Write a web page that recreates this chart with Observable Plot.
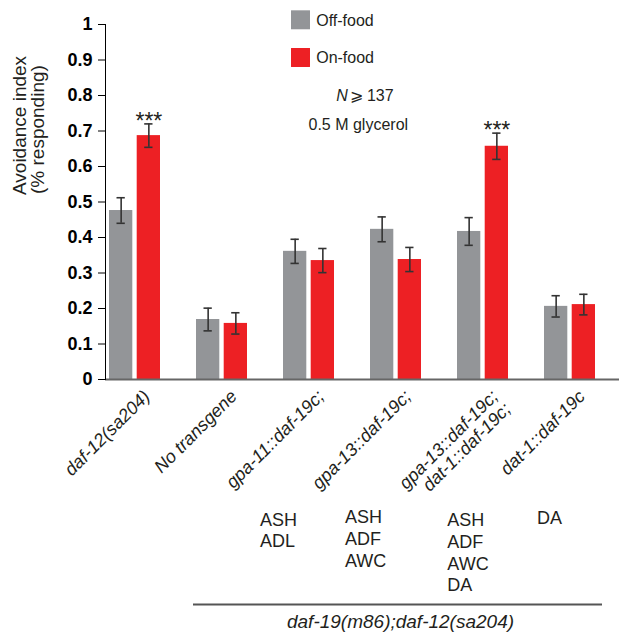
<!DOCTYPE html>
<html>
<head>
<meta charset="utf-8">
<script src="https://cdn.jsdelivr.net/npm/d3@7"></script>
<script src="https://cdn.jsdelivr.net/npm/@observablehq/plot@0.6"></script>
<style>
  html, body { margin: 0; padding: 0; background: #fff; }
</style>
</head>
<body>
<div id="chart"></div>
<script>
// ---- data ----
const groups = [
  "daf-12(sa204)",
  "No transgene",
  "gpa-11::daf-19c;",
  "gpa-13::daf-19c;",
  "gpa-13::daf-19c;\ndat-1::daf-19c;",
  "dat-1::daf-19c"
];
const offFood = [0.476, 0.169, 0.361, 0.423, 0.417, 0.206];
const offErr  = [0.036, 0.032, 0.034, 0.035, 0.039, 0.030];
const onFood  = [0.687, 0.158, 0.335, 0.338, 0.657, 0.211];
const onErr   = [0.033, 0.030, 0.034, 0.034, 0.037, 0.029];
const stars   = ["***", "", "", "", "***", ""];
const cellTypes = ["", "", "ASH\nADL", "ASH\nADF\nAWC", "ASH\nADF\nAWC\nDA", "DA"];
const yTicks = [0, 0.1, 0.2, 0.3, 0.4, 0.5, 0.6, 0.7, 0.8, 0.9, 1];
const legendLabels = ["Off-food", "On-food"];
const noteN = ["N", "\u2A7E 137"];
const noteStimulus = "0.5 M glycerol";
const backgroundLabel = "daf-19(m86);daf-12(sa204)";
const yLabel = ["Avoidance index", "(% responding)"];

// ---- styling / layout ----
const GRAY = "#939598";
const RED = "#ED2024";
const INK = "#231F20";
const FONT = "'Liberation Sans', Arial, Helvetica, sans-serif";
const HALF = 13.85;          // offset of each bar centre from group centre
const BAR_INSET = 27.7;      // inset that leaves each bar 24px wide
const cellLayout = [null, null, {dx: -49, dy: 131}, {dx: -51, dy: 128.5}, {dx: -35.7, dy: 131.5}, {dx: -33, dy: 129.5}];

const rows = groups.map((g, i) => ({
  group: g,
  off: offFood[i], offLo: offFood[i] - offErr[i], offHi: offFood[i] + offErr[i],
  on: onFood[i], onLo: onFood[i] - onErr[i], onHi: onFood[i] + onErr[i],
  star: stars[i], cells: cellTypes[i]
}));

const errStyle = {stroke: "#333", strokeWidth: 1.6};

const cellMarks = rows.map((r, i) => r.cells ? Plot.text([r], {
  x: "group", text: "cells", frameAnchor: "bottom", textAnchor: "start", lineAnchor: "top",
  lineHeight: 1.2, fontSize: 18, fill: INK, dx: cellLayout[i].dx, dy: cellLayout[i].dy
}) : null).filter(Boolean);

const chart = Plot.plot({
  width: 619,
  height: 635,
  marginLeft: 105,
  marginRight: 0,
  marginTop: 24,
  marginBottom: 256,
  style: {fontFamily: FONT, background: "#fff", color: INK, overflow: "visible"},
  x: {type: "band", domain: groups, paddingInner: 0.4116, paddingOuter: 0.1309, align: 0.148, axis: null},
  y: {domain: [0, 1], axis: null},
  marks: [
    // bars
    Plot.barY(rows, {x: "group", y: "off", fill: GRAY, insetRight: BAR_INSET}),
    Plot.barY(rows, {x: "group", y: "on", fill: RED, insetLeft: BAR_INSET}),
    // baseline
    Plot.ruleY([0], {stroke: "#666", strokeWidth: 2}),
    // error bars
    Plot.ruleX(rows, {x: "group", y1: "offLo", y2: "offHi", dx: -HALF, ...errStyle}),
    Plot.ruleX(rows, {x: "group", y1: "onLo", y2: "onHi", dx: HALF, ...errStyle}),
    Plot.tickY(rows, {x: "group", y: "offHi", insetLeft: 7.5, insetRight: 35.2, ...errStyle}),
    Plot.tickY(rows, {x: "group", y: "offLo", insetLeft: 7.5, insetRight: 35.2, ...errStyle}),
    Plot.tickY(rows, {x: "group", y: "onHi", insetLeft: 35.2, insetRight: 7.5, ...errStyle}),
    Plot.tickY(rows, {x: "group", y: "onLo", insetLeft: 35.2, insetRight: 7.5, ...errStyle}),
    // significance stars
    Plot.text(rows.filter(d => d.star), {x: "group", y: "onHi", text: "star", dx: HALF, dy: 5,
      lineAnchor: "bottom", fontSize: 23, fill: INK}),
    // y axis
    Plot.frame({anchor: "left", stroke: "#000", strokeWidth: 1}),
    Plot.axisY({ticks: yTicks, tickFormat: d => String(d), tickSize: 7, tickPadding: 6,
      fontSize: 18, fontWeight: "bold", label: null, stroke: "#000", fill: "#000"}),
    Plot.text([yLabel[0]], {frameAnchor: "left", rotate: -90, lineAnchor: "bottom", dx: -80, dy: -7, fontSize: 19, fill: INK}),
    Plot.text([yLabel[1]], {frameAnchor: "left", rotate: -90, lineAnchor: "bottom", dx: -62, dy: -8, fontSize: 19, fill: INK}),
    // x labels
    Plot.text(groups, {x: d => d, text: d => d, frameAnchor: "bottom", rotate: -45, textAnchor: "end",
      lineAnchor: "top", lineHeight: 1, dx: 7, dy: 9, fontSize: 18, fontStyle: "italic", fill: INK}),
    // legend
    Plot.dot([legendLabels[0]], {frameAnchor: "top-left", dx: 195, dy: -4.7, symbol: "square", r: 10.7, fill: GRAY}),
    Plot.dot([legendLabels[1]], {frameAnchor: "top-left", dx: 195, dy: 33, symbol: "square", r: 10.7, fill: RED}),
    Plot.text([legendLabels[0]], {frameAnchor: "top-left", dx: 210.7, dy: 1, lineAnchor: "bottom", textAnchor: "start", fontSize: 16, fill: INK}),
    Plot.text([legendLabels[1]], {frameAnchor: "top-left", dx: 210.7, dy: 38.3, lineAnchor: "bottom", textAnchor: "start", fontSize: 16, fill: INK}),
    // notes
    Plot.text([noteN[0]], {frameAnchor: "top-left", dx: 230.7, dy: 76, lineAnchor: "bottom", textAnchor: "start", fontSize: 16, fontStyle: "italic", fill: INK}),
    Plot.text([noteN[1]], {frameAnchor: "top-left", dx: 244, dy: 76, lineAnchor: "bottom", textAnchor: "start", fontSize: 16, fill: INK}),
    Plot.text([noteStimulus], {frameAnchor: "top-left", dx: 203, dy: 105, lineAnchor: "bottom", textAnchor: "start", fontSize: 16, fill: INK}),
    // cell types expressing the transgene
    ...cellMarks,
    // genetic background bracket
    Plot.ruleY([0], {dy: 225, insetLeft: 88, insetRight: 17, stroke: "#555", strokeWidth: 2}),
    Plot.text([backgroundLabel], {frameAnchor: "bottom", dx: 38, dy: 248, lineAnchor: "bottom",
      fontSize: 19, fontStyle: "italic", fill: INK})
  ]
});
document.getElementById("chart").appendChild(chart);
</script>
</body>
</html>
